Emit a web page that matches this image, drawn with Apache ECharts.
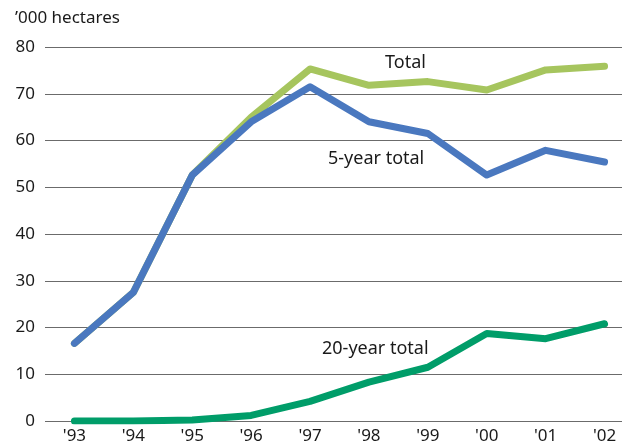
<!DOCTYPE html>
<html>
<head>
<meta charset="utf-8">
<script src="https://cdn.jsdelivr.net/npm/echarts@6/dist/echarts.min.js"></script>
<style>
  html, body { margin: 0; padding: 0; background: #fff; }
  #chart { width: 622px; height: 445px; }
</style>
</head>
<body>
<div id="chart"></div>
<script>
// years on the x axis
var years = ["'93", "'94", "'95", "'96", "'97", "'98", "'99", "'00", "'01", "'02"];
// '000 hectares
var totalArea = [16.6, 27.5, 52.6, 65.0, 75.3, 71.8, 72.6, 70.8, 75.1, 75.9];
var fiveYear = [16.6, 27.5, 52.6, 64.0, 71.5, 64.0, 61.5, 52.6, 57.9, 55.4];
var twentyYear = [0, 0, 0.2, 1.2, 4.2, 8.3, 11.5, 18.7, 17.6, 20.8];
var yTicks = [0, 10, 20, 30, 40, 50, 60, 70, 80];

var font = 'Noto Sans';

var myChart = echarts.init(document.getElementById('chart'));
var option = {
  animation: false,
  grid: {
    left: 45,
    width: 589,   // last band runs past the edge, like the original
    top: 47,
    bottom: 24,
    outerBoundsMode: 'none'
  },
  xAxis: {
    type: 'category',
    data: years,
    boundaryGap: true,
    axisLine: { show: false },
    axisTick: { show: false },
    axisLabel: { color: '#1a1a1a', fontSize: 17, fontFamily: font, margin: 7 }
  },
  yAxis: {
    type: 'value',
    min: yTicks[0],
    max: yTicks[yTicks.length - 1],
    interval: 10,
    axisLine: { show: false },
    axisTick: { show: false },
    axisLabel: { color: '#1a1a1a', fontSize: 17, fontFamily: font, margin: 10 },
    splitLine: { lineStyle: { color: '#6b6b6b', width: 1 } }
  },
  series: [
    {
      name: 'Total',
      type: 'line',
      data: totalArea,
      symbol: 'none',
      lineStyle: { color: '#a6c55e', width: 7, cap: 'round', join: 'round' },
      z: 2
    },
    {
      name: '5-year total',
      type: 'line',
      data: fiveYear,
      symbol: 'none',
      lineStyle: { color: '#4a78bf', width: 7, cap: 'round', join: 'round' },
      z: 3
    },
    {
      name: '20-year total',
      type: 'line',
      data: twentyYear,
      symbol: 'none',
      lineStyle: { color: '#009d69', width: 7, cap: 'round', join: 'round' },
      z: 3
    }
  ],
  graphic: [
    { type: 'text', left: 15, top: 10, style: { text: '\u2019000 hectares', fill: '#1a1a1a', font: '17px "Noto Sans"' } },
    { type: 'text', left: 385, top: 54, style: { text: 'Total', fill: '#1a1a1a', font: '18px "Noto Sans"' } },
    { type: 'text', left: 328, top: 150, style: { text: '5-year total', fill: '#1a1a1a', font: '18px "Noto Sans"' } },
    { type: 'text', left: 322, top: 340, style: { text: '20-year total', fill: '#1a1a1a', font: '18px "Noto Sans"' } }
  ]
};
myChart.setOption(option);
</script>
</body>
</html>
